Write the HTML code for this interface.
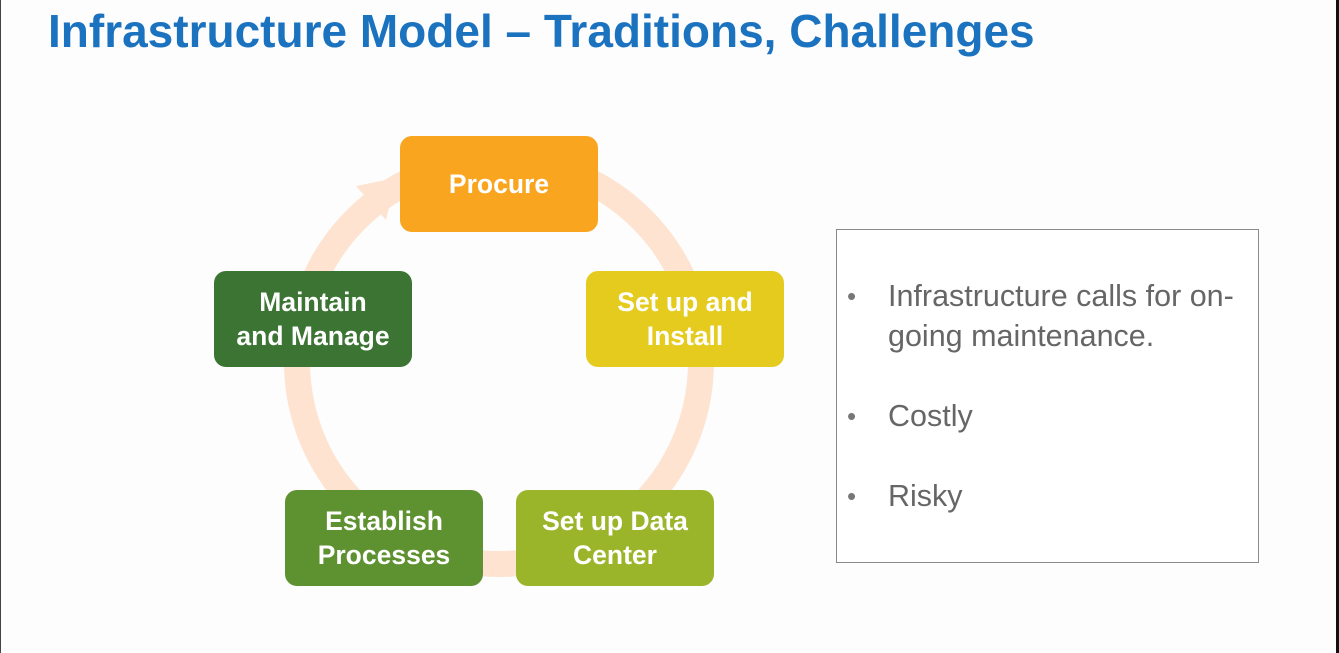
<!DOCTYPE html>
<html><head><meta charset="utf-8"><style>
html,body{margin:0;padding:0}
body{width:1339px;height:653px;background:#fdfdfd;position:relative;overflow:hidden;font-family:"Liberation Sans",sans-serif}
.t{position:absolute;left:48px;top:4px;font-size:46px;font-weight:bold;color:#1b72bf;white-space:nowrap}
.b{position:absolute;width:198px;height:96px;border-radius:12px;color:#fff;font-weight:bold;font-size:26.5px;line-height:34px;display:flex;align-items:center;justify-content:center;text-align:center}
.box{position:absolute;left:836px;top:229px;width:421px;height:332px;border:1.5px solid #8a8a8a;background:#fff}
.li{position:absolute;font-size:30.5px;color:#666;line-height:40px;white-space:nowrap}
.dot{position:absolute;left:10px;font-size:26px;color:#777}
</style></head><body>
<div style="position:absolute;left:0;top:0;width:1px;height:653px;background:#444"></div>
<div style="position:absolute;left:1336px;top:0;width:3px;height:653px;background:#111"></div>
<div class="t">Infrastructure Model – Traditions, Challenges</div>
<svg width="1339" height="653" style="position:absolute;left:0;top:0">
<circle cx="499" cy="362" r="202" fill="none" stroke="#fde3d0" stroke-width="26"/>
<polygon points="396,178 356,186 386,220" fill="#fde3d0"/>
</svg>
<div class="b" style="left:400px;top:136px;background:#f9a51f">Procure</div>
<div class="b" style="left:586px;top:271px;background:#e5cb1e">Set up and<br>Install</div>
<div class="b" style="left:516px;top:490px;background:#9bb52b">Set up Data<br>Center</div>
<div class="b" style="left:285px;top:490px;background:#5e9130">Establish<br>Processes</div>
<div class="b" style="left:214px;top:271px;background:#3b7433">Maintain<br>and Manage</div>
<div class="box">
<div class="li" style="left:0;top:46px"><span class="dot">•</span><span style="position:absolute;left:51px">Infrastructure calls for on-</span></div>
<div class="li" style="left:51px;top:86px">going maintenance.</div>
<div class="li" style="left:0;top:166px"><span class="dot">•</span><span style="position:absolute;left:51px">Costly</span></div>
<div class="li" style="left:0;top:246px"><span class="dot">•</span><span style="position:absolute;left:51px">Risky</span></div>
</div>
</body></html>
